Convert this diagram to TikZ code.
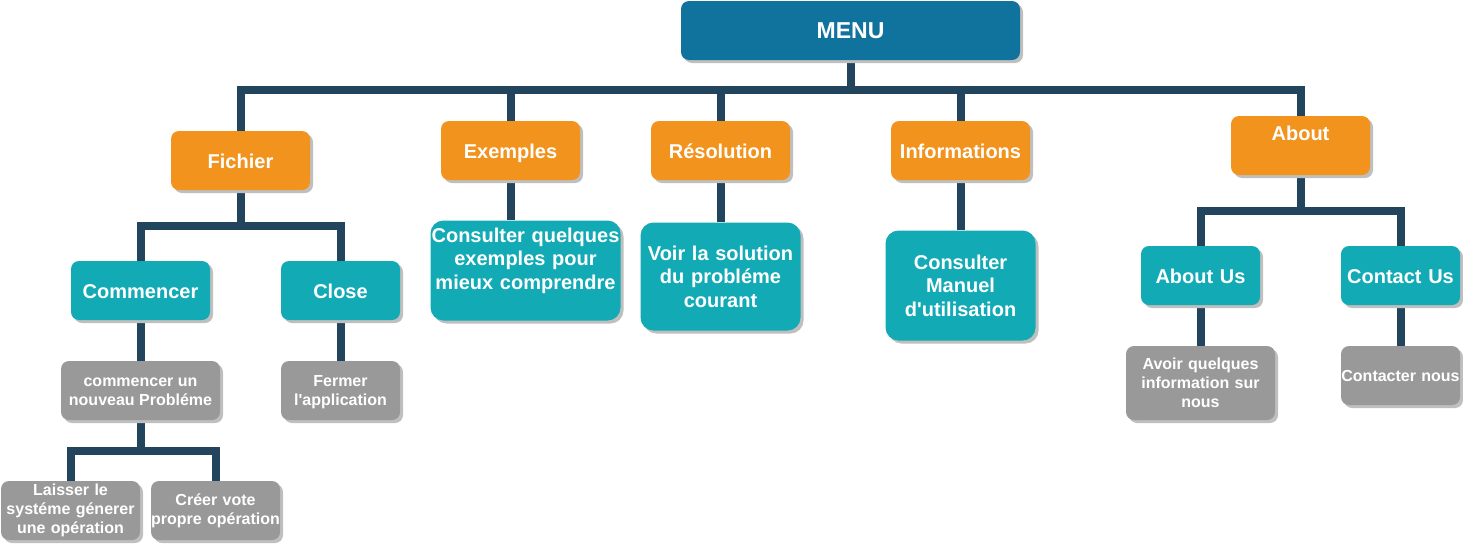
\documentclass[tikz,border=0pt]{standalone}
\usepackage{fontspec}
\setmainfont{Liberation Sans}[Ligatures=TeXOff]
\usetikzlibrary{shadows}
\definecolor{menublue}{HTML}{10739E}
\definecolor{orng}{HTML}{F2931E}
\definecolor{teal2}{HTML}{12AAB5}
\definecolor{grey2}{HTML}{999999}
\definecolor{conn}{HTML}{23445D}
\pgfdeclarelayer{bg}
\pgfsetlayers{bg,main}
\tikzset{
  box/.style={rounded corners=8pt, draw=none, text=white, align=center, inner sep=0pt,
    drop shadow={shadow xshift=3pt,shadow yshift=-3pt,fill=black!25,opacity=1}},
  big/.style={font=\bfseries\fontsize{20}{23.5}\selectfont},
  small/.style={font=\bfseries\fontsize{16}{19}\selectfont},
  oneline/.style={text height=15pt, text depth=0pt},
  obox/.style={box, big, oneline, fill=orng, text width=139pt, minimum height=59pt},
  tbox/.style={box, big, oneline, fill=teal2, minimum height=59pt},
  cbox/.style={box, big, fill=teal2, rounded corners=13pt},
  gbox/.style={box, small, fill=grey2},
  wire/.style={draw=conn, line width=8pt},
  lbl/.style={text=white, align=center, inner sep=0pt}
}
\begin{document}
\begin{tikzpicture}[x=1pt,y=-1pt]
\useasboundingbox (0,0) rectangle (1463,544);
% top
\node[box, fill=menublue, text width=339pt, minimum height=59pt, font=\bfseries\fontsize{23}{26}\selectfont] (menu) at (850.5,30.5) {MENU};
% level 1
\node[obox] (fichier) at (240.5,160.5) {Fichier};
\node[obox] (exemples) at (510.5,150.5) {Exemples};
\node[obox] (resolution) at (720.5,150.5) {Résolution};
\node[obox] (informations) at (960.5,150.5) {Informations};
\node[obox, label={[lbl, big, yshift=12pt]center:About}] (about) at (1300.5,145.5) {};
% level 2
\node[tbox, text width=139pt] (commencer) at (140.5,290.5) {Commencer};
\node[tbox, text width=119pt] (close) at (340.5,290.5) {Close};
\node[cbox, text width=190pt, minimum height=100pt, label={[lbl, big, text width=190pt, yshift=10pt]center:{Consulter quelques\\exemples pour\\mieux comprendre}}] (exch) at (525.5,270.5) {};
\node[cbox, text width=160pt, minimum height=108pt] (resch) at (720.5,276.5) {Voir la solution\\du probléme\\courant};
\node[cbox, text width=150pt, minimum height=110pt] (infch) at (960.5,285.5) {Consulter\\Manuel\\d'utilisation};
\node[tbox, text width=119pt] (aboutus) at (1200.5,275.5) {About Us};
\node[tbox, text width=119pt] (contactus) at (1400.5,275.5) {Contact Us};
% level 3
\node[gbox, text width=159pt, minimum height=59pt, label={[lbl, small, yshift=-1.5pt]center:{commencer un\\nouveau Probléme}}] (nouveau) at (140.5,390.5) {};
\node[gbox, text width=119pt, minimum height=59pt, label={[lbl, small, yshift=-2pt]center:{Fermer\\l'application}}] (fermer) at (340.5,390.5) {};
\node[gbox, text width=149pt, minimum height=74pt] (avoir) at (1200.5,383) {Avoir quelques\\information sur\\nous};
\node[gbox, text width=119pt, minimum height=59pt] (contacter) at (1400.5,375.5) {Contacter nous};
% level 4
\node[gbox, text width=139pt, minimum height=59pt] (laisser) at (70.5,510.5) {Laisser le\\systéme génerer\\une opération};
\node[gbox, text width=129pt, minimum height=59pt] (creer) at (215.5,510.5) {Créer vote\\propre opération};
% bus coordinates
\coordinate (b0) at (850.5,90);
\coordinate (bf) at (240.5,226);
\coordinate (bn) at (140.5,451);
\coordinate (ba) at (1300.5,211);
\begin{pgfonlayer}{bg}
\draw[wire] (menu.south) -- (b0);
\draw[wire] (b0) -| (fichier.north);
\draw[wire] (b0) -| (exemples.north);
\draw[wire] (b0) -| (resolution.north);
\draw[wire] (b0) -| (informations.north);
\draw[wire] (b0) -| (about.north);
\draw[wire] (fichier.south) -- (bf);
\draw[wire] (bf) -| (commencer.north);
\draw[wire] (bf) -| (close.north);
\draw[wire] (commencer.south) -- (nouveau.north);
\draw[wire] (close.south) -- (fermer.north);
\draw[wire] (nouveau.south) -- (bn);
\draw[wire] (bn) -| (laisser.north);
\draw[wire] (bn) -| (creer.north);
\draw[wire] (exemples.south) -- (exemples.south |- exch.north);
\draw[wire] (resolution.south) -- (resch.north);
\draw[wire] (informations.south) -- (infch.north);
\draw[wire] (about.south) -- (ba);
\draw[wire] (ba) -| (aboutus.north);
\draw[wire] (ba) -| (contactus.north);
\draw[wire] (aboutus.south) -- (avoir.north);
\draw[wire] (contactus.south) -- (contacter.north);
\end{pgfonlayer}
\end{tikzpicture}
\end{document}
